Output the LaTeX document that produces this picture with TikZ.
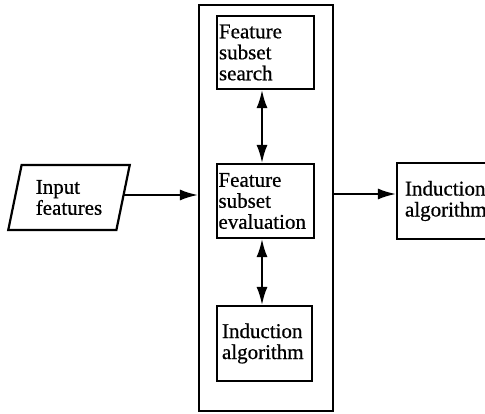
\documentclass[tikz,border=0pt]{standalone}
\usepackage{fontspec}
\setmainfont{Liberation Serif}[FakeBold=0.6]
\usetikzlibrary{arrows.meta,shapes.geometric}
\newcommand\boxfont{\fontsize{21}{21}\selectfont}
\tikzset{
  blk/.style={draw, line width=2.2pt, align=left, inner ysep=0pt, font=\boxfont},
  tip/.style={Latex[length=18pt,width=11pt]},
  link/.style={line width=2pt, -{Latex[length=18pt,width=11pt]}},
  dlink/.style={line width=2pt, {Latex[length=18pt,width=11pt]}-{Latex[length=18pt,width=11pt]}}
}
\begin{document}
\begin{tikzpicture}[x=1pt,y=-1pt]
  \clip (0,0) rectangle (485,414);
  \fill[white] (0,0) rectangle (485,414);

  % enclosing wrapper box
  \node[draw, line width=2.2pt, minimum width=134pt, minimum height=406pt, inner sep=0pt] (outer) at (266,208) {};

  % inner stages
  \node[blk, inner xsep=2pt, text width=93pt, minimum height=73pt] (search) at (265.5,52.5) {Feature\\subset\\search};
  \node[blk, inner xsep=1.5pt, text width=94pt, minimum height=74pt] (eval) at (265.5,201) {Feature\\subset\\evaluation};
  \node[blk, inner xsep=5pt, text width=85pt, minimum height=75pt] (ind) at (264.5,343.5) {Induction\\algorithm};

  % input parallelogram
  \node[draw, line width=2.2pt, shape=trapezium, trapezium left angle=75, trapezium right angle=105,
        trapezium stretches=true, minimum width=122pt, minimum height=65pt, align=left,
        font=\boxfont, inner sep=0pt] (input) at (69,197.5) {Input\\features};

  % output stage, running past the right edge
  \node[blk, inner xsep=8pt, text width=84pt, minimum height=76pt] (res) at (447,201) {Induction\\algorithm};

  % connectors
  \draw[link] ([yshift=2.5pt]input.east) -- ([yshift=2.5pt]input.east -| outer.west);
  \draw[link] ([yshift=7pt]res.west -| outer.east) -- ([yshift=7pt]res.west);
  \draw[dlink] ([xshift=-3.5pt]search.south) -- ([xshift=-3.5pt]eval.north);
  \draw[dlink] ([xshift=-3.5pt]eval.south) -- ([xshift=-3.5pt]eval.south |- ind.north);
\end{tikzpicture}
\end{document}
